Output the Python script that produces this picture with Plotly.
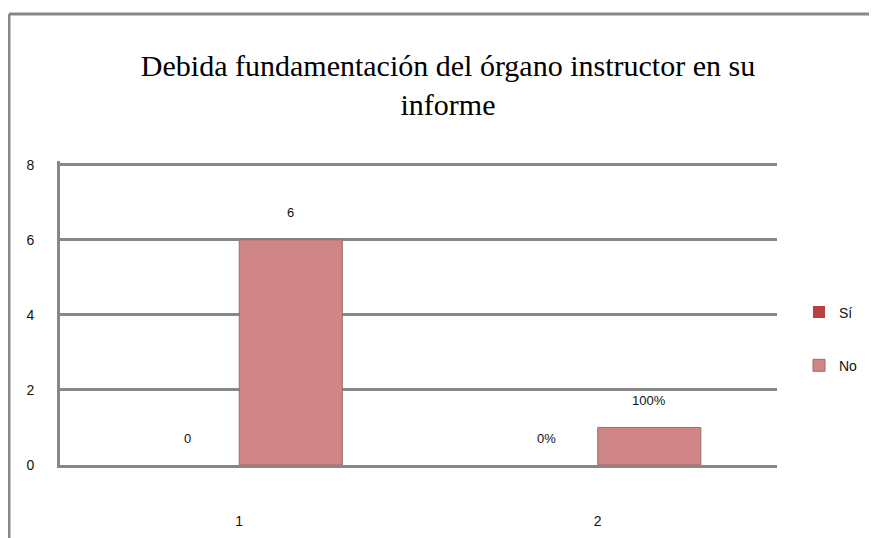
import plotly.graph_objects as go

categories = ["1", "2"]
series_names = ["Sí", "No"]
si_values = [0, 0]
no_values = [6, 1]
si_labels = ["0", "0%"]
no_labels = ["6", "100%"]
y_ticks = [0, 2, 4, 6, 8]
title_text = "Debida fundamentación del órgano instructor en su<br>informe"

W, H = 877, 538
L, R, T, B = 52, 108, 153, 81
plot_w = W - L - R
plot_h = H - T - B
GRID = "#878787"
BARGAP = 0.425
bar_px = plot_w / len(categories) * (1 - BARGAP) / 2

fig = go.Figure()
fig.add_trace(go.Bar(
    x=categories, y=si_values, name=series_names[0],
    marker=dict(color="#b8403f", line=dict(color="#8a3030", width=0)),
    legendgroup="a",
))
fig.add_trace(go.Bar(
    x=categories, y=no_values, name=series_names[1],
    marker=dict(color="#d08687", line=dict(color="#a06a6a", width=1)),
    legendgroup="b",
))

# data labels, placed above each bar (x given as category index)
for labels, vals, sign in ((si_labels, si_values, -1), (no_labels, no_values, 1)):
    for i, (v, t) in enumerate(zip(vals, labels)):
        fig.add_annotation(
            x=i, y=v, text=t, showarrow=False,
            xshift=sign * bar_px / 2, yshift=27, yanchor="middle",
            font=dict(family="Liberation Sans", size=13, color="#111111"),
        )

# outer chart-area frame (left and top edges visible)
fx = (1 - L) / plot_w
fy = 1 + (T - 6) / plot_h
fig.add_shape(type="line", xref="paper", yref="paper",
              x0=fx, x1=fx, y0=-0.4, y1=fy, line=dict(color=GRID, width=3))
fig.add_shape(type="line", xref="paper", yref="paper",
              x0=fx, x1=1.3, y0=fy, y1=fy, line=dict(color=GRID, width=3))

fig.update_layout(
    width=W, height=H,
    margin=dict(l=L, r=R, t=T, b=B, autoexpand=False),
    paper_bgcolor="white", plot_bgcolor="white",
    barmode="group", bargap=BARGAP, bargroupgap=0,
    title=dict(text=title_text, x=440 / W, xanchor="center",
               y=1 - 68 / H, yanchor="top",
               font=dict(family="Liberation Serif", size=30, color="black")),
    font=dict(family="Liberation Sans", size=13, color="#111111"),
    legend=dict(x=(791 - L) / plot_w, xanchor="left", y=(457 - 331) / plot_h,
                yanchor="middle", tracegroupgap=32,
                font=dict(family="Liberation Sans", size=14, color="#111111"),
                itemwidth=30),
    xaxis=dict(type="category", range=[-0.5, len(categories) - 0.5],
               automargin=False, showline=True, linecolor=GRID, linewidth=3,
               showgrid=False, ticks="", ticklabelstandoff=41,
               tickfont=dict(family="Liberation Sans", size=14, color="#111111")),
    yaxis=dict(range=[0, 8.1], tickvals=y_ticks, showgrid=True, gridcolor=GRID,
               gridwidth=3, showline=True, linecolor=GRID, linewidth=3,
               automargin=False, zeroline=False, ticks="", ticklabelstandoff=20,
               tickfont=dict(family="Liberation Sans", size=14, color="#111111")),
)

fig.write_html("out.html")
